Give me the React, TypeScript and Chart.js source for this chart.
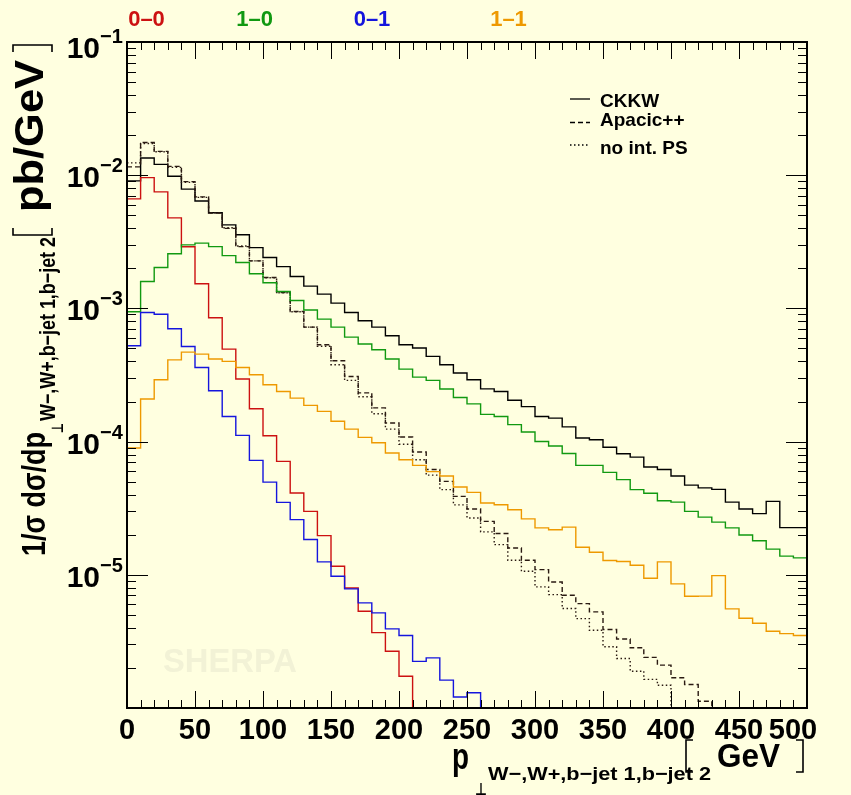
import React, { useEffect, useRef } from "react";
import { Chart, registerables } from "chart.js";

Chart.register(...registerables);

// ---------------- data ----------------
const binEdges = [
  0, 10, 20, 30, 40, 50, 60, 70, 80, 90, 100, 110, 120, 130, 140, 150, 160, 170, 180, 190,
  200, 210, 220, 230, 240, 250, 260, 270, 280, 290, 300, 310, 320, 330, 340, 350, 360, 370, 380, 390,
  400, 410, 420, 430, 440, 450, 460, 470, 480, 490, 500,
];

const ckkw = [
  9.06e-3, 1.348e-2, 1.205e-2, 9.83e-3, 7.86e-3, 6.41e-3, 5.22e-3, 4.24e-3, 3.57e-3, 2.86e-3,
  2.41e-3, 2.06e-3, 1.735e-3, 1.47e-3, 1.28e-3, 1.096e-3, 9.32e-4, 8.07e-4, 7.24e-4, 6.23e-4,
  5.33e-4, 5.04e-4, 4.36e-4, 3.78e-4, 3.27e-4, 2.91e-4, 2.49e-4, 2.38e-4, 2.045e-4, 1.83e-4,
  1.545e-4, 1.5e-4, 1.29e-4, 1.064e-4, 1.033e-4, 9.08e-5, 8.11e-5, 7.64e-5, 6.45e-5, 6.18e-5,
  5.52e-5, 4.71e-5, 4.49e-5, 4.38e-5, 3.51e-5, 3.12e-5, 2.88e-5, 3.56e-5, 2.26e-5, 2.26e-5,
];

const apacic = [
  1.154e-2, 1.76e-2, 1.51e-2, 1.164e-2, 8.95e-3, 6.87e-3, 5.19e-3, 3.99e-3, 2.91e-3, 2.275e-3,
  1.705e-3, 1.316e-3, 9.48e-4, 7.23e-4, 5.33e-4, 4.05e-4, 3.08e-4, 2.32e-4, 1.79e-4, 1.38e-4,
  1.083e-4, 8.36e-5, 6.18e-5, 5.03e-5, 3.88e-5, 3.12e-5, 2.52e-5, 2.04e-5, 1.59e-5, 1.285e-5,
  1.094e-5, 8.84e-6, 7.02e-6, 6.08e-6, 5.27e-6, 3.88e-6, 3.3e-6, 2.83e-6, 2.4e-6, 2.1e-6,
  1.685e-6, 1.5e-6, 1.125e-6, 0, 0, 0, 0, 0, 0, 0,
];

const noIntPS = [
  1.237e-2, 1.73e-2, 1.5e-2, 1.144e-2, 8.83e-3, 6.81e-3, 5.22e-3, 4.03e-3, 2.94e-3, 2.275e-3,
  1.7e-3, 1.31e-3, 9.43e-4, 7.23e-4, 5.2e-4, 3.78e-4, 2.88e-4, 2.17e-4, 1.62e-4, 1.24e-4,
  9.56e-5, 7.31e-5, 5.6e-5, 4.36e-5, 3.35e-5, 2.67e-5, 2.1e-5, 1.685e-5, 1.285e-5, 1.062e-5,
  8.11e-6, 7.1e-6, 5.58e-6, 4.69e-6, 3.83e-6, 2.88e-6, 2.35e-6, 1.89e-6, 1.64e-6, 1.48e-6,
  0, 0, 0, 0, 0, 0, 0, 0, 0, 0,
];

const h00 = [
  6.64e-3, 9.59e-3, 7.49e-3, 4.78e-3, 2.9e-3, 1.53e-3, 8.5e-4, 4.95e-4, 2.95e-4, 1.765e-4,
  1.107e-4, 7.1e-5, 4.11e-5, 2.995e-5, 1.97e-5, 1.16e-5, 7.97e-6, 5.32e-6, 3.68e-6, 2.67e-6,
  1.73e-6, 0, 0, 0, 0, 0, 0, 0, 0, 0,
  0, 0, 0, 0, 0, 0, 0, 0, 0, 0,
  0, 0, 0, 0, 0, 0, 0, 0, 0, 0,
];

const h10 = [
  9.43e-4, 1.59e-3, 2.03e-3, 2.57e-3, 3.0e-3, 3.09e-3, 2.91e-3, 2.49e-3, 2.21e-3, 1.82e-3,
  1.56e-3, 1.34e-3, 1.146e-3, 9.73e-4, 8.31e-4, 7.24e-4, 6.09e-4, 5.4e-4, 4.89e-4, 4.17e-4,
  3.5e-4, 3.05e-4, 2.88e-4, 2.48e-4, 2.145e-4, 1.92e-4, 1.6e-4, 1.545e-4, 1.34e-4, 1.18e-4,
  1.003e-4, 9.27e-5, 8.15e-5, 6.63e-5, 6.63e-5, 5.87e-5, 5.18e-5, 4.36e-5, 4.09e-5, 3.6e-5,
  3.51e-5, 2.995e-5, 2.71e-5, 2.485e-5, 2.25e-5, 1.99e-5, 1.8e-5, 1.56e-5, 1.38e-5, 1.34e-5,
];

const h01 = [
  5.24e-4, 9.32e-4, 9.03e-4, 7.03e-4, 5.18e-4, 3.6e-4, 2.41e-4, 1.545e-4, 1.113e-4, 7.23e-5,
  4.96e-5, 3.5e-5, 2.595e-5, 1.84e-5, 1.25e-5, 9.74e-6, 7.84e-6, 6.15e-6, 5.18e-6, 3.93e-6,
  3.5e-6, 2.24e-6, 2.38e-6, 1.62e-6, 1.21e-6, 1.3e-6, 0, 0, 0, 0,
  0, 0, 0, 0, 0, 0, 0, 0, 0, 0,
  0, 0, 0, 0, 0, 0, 0, 0, 0, 0,
];

const h11 = [
  8.95e-5, 2.09e-4, 2.91e-4, 4.11e-4, 4.7e-4, 4.54e-4, 4.17e-4, 4.0e-4, 3.6e-4, 3.18e-4,
  2.67e-4, 2.38e-4, 2.12e-4, 1.87e-4, 1.685e-4, 1.42e-4, 1.24e-4, 1.075e-4, 9.81e-5, 8.21e-5,
  7.31e-5, 6.63e-5, 5.95e-5, 5.52e-5, 4.56e-5, 4.16e-5, 3.46e-5, 3.36e-5, 3.08e-5, 2.63e-5,
  2.25e-5, 2.18e-5, 2.28e-5, 1.61e-5, 1.475e-5, 1.28e-5, 1.26e-5, 1.18e-5, 9.41e-6, 1.25e-5,
  8.55e-6, 6.9e-6, 6.92e-6, 9.86e-6, 5.55e-6, 4.72e-6, 4.33e-6, 3.77e-6, 3.62e-6, 3.5e-6,
];

const xTickLabels = [0, 50, 100, 150, 200, 250, 300, 350, 400, 450, 500];
const yTickExponents = [-1, -2, -3, -4, -5];
const headerLabels = ["0–0", "1–0", "0–1", "1–1"];
const headerColors = ["#CC1111", "#119911", "#1515DD", "#EE9900"];
const legendLabels = ["CKKW", "Apacic++", "no int. PS"];

const X_MIN = 0;
const X_MAX = 500;
const Y_MIN = 1e-6;
const Y_MAX = 1e-1;

// ---------------- styling ----------------
const FONT = '"Liberation Sans", Arial, Helvetica, sans-serif';
const SYM = '"DejaVu Sans", sans-serif';
const BG = "#FFFFE0";
const DASH = [5, 3];
const DOT = [1.5, 2.5];

type Ctx = CanvasRenderingContext2D;

function toSteps(values: number[]) {
  const pts = values.map((v, i) => ({ x: binEdges[i], y: v > 0 ? v : Y_MIN }));
  const last = values[values.length - 1];
  pts.push({ x: binEdges[values.length], y: last > 0 ? last : Y_MIN });
  return pts;
}

function drawText(
  ctx: Ctx,
  text: string,
  x: number,
  y: number,
  font: string,
  color: string,
  width?: number,
  align: "left" | "center" | "right" = "left"
) {
  ctx.save();
  ctx.font = font;
  ctx.fillStyle = color;
  ctx.textBaseline = "alphabetic";
  ctx.textAlign = "left";
  const w = ctx.measureText(text).width;
  const sx = width ? width / w : 1;
  const dw = w * sx;
  let x0 = x;
  if (align === "center") x0 = x - dw / 2;
  else if (align === "right") x0 = x - dw;
  ctx.translate(x0, y);
  ctx.scale(sx, 1);
  ctx.fillText(text, 0, 0);
  ctx.restore();
}

function drawRotText(ctx: Ctx, text: string, baseX: number, startY: number, font: string, color: string, length?: number) {
  ctx.save();
  ctx.translate(baseX, startY);
  ctx.rotate(-Math.PI / 2);
  drawText(ctx, text, 0, 0, font, color, length);
  ctx.restore();
}

function line(ctx: Ctx, pts: number[][], width: number) {
  ctx.save();
  ctx.lineWidth = width;
  ctx.strokeStyle = "#000";
  ctx.beginPath();
  pts.forEach((p, i) => (i === 0 ? ctx.moveTo(p[0], p[1]) : ctx.lineTo(p[0], p[1])));
  ctx.stroke();
  ctx.restore();
}

const decor = {
  id: "decor",
  beforeDraw(chart: any) {
    const ctx: Ctx = chart.ctx;
    ctx.save();
    ctx.fillStyle = BG;
    ctx.fillRect(0, 0, chart.width, chart.height);
    ctx.restore();
  },
  beforeDatasetsDraw(chart: any) {
    const ctx: Ctx = chart.ctx;
    drawText(ctx, "SHERPA", 163, 672, `bold 33px ${FONT}`, "#F2F2D6", 134);
  },
  afterDatasetsDraw(chart: any) {
    const ctx: Ctx = chart.ctx;
    const a = chart.chartArea;
    const xs = chart.scales.x;
    const ys = chart.scales.y;

    // ticks
    ctx.save();
    ctx.strokeStyle = "#000";
    ctx.lineWidth = 1;
    ctx.beginPath();
    for (let v = X_MIN; v <= X_MAX; v += 10) {
      const px = Math.round(xs.getPixelForValue(v)) + 0.5;
      const len = v % 50 === 0 ? 17 : 8;
      ctx.moveTo(px, a.bottom);
      ctx.lineTo(px, a.bottom - len);
      ctx.moveTo(px, a.top);
      ctx.lineTo(px, a.top + len);
    }
    for (let e = -6; e <= -1; e++) {
      for (let m = 1; m <= 9; m++) {
        const v = m * Math.pow(10, e);
        if (v < Y_MIN * 0.999 || v > Y_MAX * 1.001) continue;
        const py = Math.round(ys.getPixelForValue(v)) + 0.5;
        const len = m === 1 ? 21 : 9;
        ctx.moveTo(a.left, py);
        ctx.lineTo(a.left + len, py);
        ctx.moveTo(a.right, py);
        ctx.lineTo(a.right - len, py);
      }
    }
    ctx.stroke();
    ctx.lineWidth = 2;
    ctx.strokeRect(a.left, a.top, a.right - a.left, a.bottom - a.top);
    ctx.restore();

    // x tick labels
    xTickLabels.forEach((v, i) => {
      let px = xs.getPixelForValue(v);
      if (i === xTickLabels.length - 1) px -= 14;
      drawText(ctx, String(v), px, 739, `bold 29px ${FONT}`, "#000", undefined, "center");
    });

    // y tick labels
    yTickExponents.forEach((e) => {
      const py = ys.getPixelForValue(Math.pow(10, e));
      const top = e === -1;
      drawText(ctx, "10", 100, py + (top ? 16 : 12), `bold 30px ${FONT}`, "#000", undefined, "right");
      drawText(ctx, "−" + String(-e), 100, py + (top ? 1 : -3), `bold 20px ${FONT}`, "#000");
    });

    // x axis title
    drawText(ctx, "p", 452, 769, `bold 37px ${FONT}`, "#000", 17);
    drawText(ctx, "⊥", 475, 795, `bold 17px ${SYM}`, "#000", 12);
    drawText(ctx, "W−,W+,b−jet 1,b−jet 2", 488, 780, `bold 19px ${FONT}`, "#000", 223);
    line(ctx, [[693, 740], [686, 740], [686, 772], [693, 772]], 1.6);
    drawText(ctx, "GeV", 717, 767, `bold 33px ${FONT}`, "#000", 63);
    line(ctx, [[796, 740], [803, 740], [803, 772], [796, 772]], 1.6);

    // y axis title (rotated)
    drawRotText(ctx, "1/σ dσ/dp", 45, 556, `bold 34px ${FONT}`, "#000", 124);
    drawRotText(ctx, "⊥", 63, 433, `bold 16px ${SYM}`, "#000", 10);
    drawRotText(ctx, "W−,W+,b−jet 1,b−jet 2", 55, 421, `bold 22px ${FONT}`, "#000", 184);
    line(ctx, [[13, 228], [13, 235], [52, 235], [52, 228]], 1.6);
    drawRotText(ctx, "pb/GeV", 43, 212, `bold 41px ${FONT}`, "#000", 152);
    line(ctx, [[13, 52], [13, 45], [52, 45], [52, 52]], 1.6);

    // header labels
    const hx = [146.5, 254.6, 372, 508.5];
    headerLabels.forEach((t, i) => {
      drawText(ctx, t, hx[i], 26, `bold 22px ${FONT}`, headerColors[i], undefined, "center");
    });

    // legend
    const ly = [99, 122.5, 145];
    const ty = [107, 126, 154];
    const dashes = [[], DASH, DOT];
    legendLabels.forEach((t, i) => {
      ctx.save();
      ctx.strokeStyle = "#000";
      ctx.lineWidth = 1.3;
      ctx.setLineDash(dashes[i] as number[]);
      ctx.beginPath();
      ctx.moveTo(570, ly[i]);
      ctx.lineTo(590, ly[i]);
      ctx.stroke();
      ctx.restore();
      drawText(ctx, t, 600, ty[i], `bold 19px ${FONT}`, "#000");
    });
  },
};

function ds(label: string, values: number[], color: string, dash: number[] = []) {
  return {
    label,
    data: toSteps(values),
    borderColor: color,
    backgroundColor: color,
    borderWidth: 1.4,
    borderDash: dash,
    pointRadius: 0,
    stepped: "before" as const,
    fill: false,
    tension: 0,
  };
}

export default function App() {
  const ref = useRef<HTMLCanvasElement>(null);
  useEffect(() => {
    document.body.style.margin = "0";
    const canvas = ref.current!;
    const chart = new Chart(canvas, {
      type: "line",
      data: {
        datasets: [
          ds("1-1", h11, "#EE9900"),
          ds("0-1", h01, "#1515DD"),
          ds("1-0", h10, "#119911"),
          ds("0-0", h00, "#CC1111"),
          ds("no int. PS", noIntPS, "#2a1a12", DOT),
          ds("Apacic++", apacic, "#2a1a12", DASH),
          ds("CKKW", ckkw, "#000000"),
        ] as any,
      },
      options: {
        animation: false,
        responsive: false,
        devicePixelRatio: 1,
        events: [],
        layout: { padding: { left: 127, right: 44, top: 42, bottom: 87 } },
        scales: {
          x: { type: "linear", min: X_MIN, max: X_MAX, display: false },
          y: { type: "logarithmic", min: Y_MIN, max: Y_MAX, display: false },
        },
        plugins: {
          legend: { display: false },
          tooltip: { enabled: false },
        },
      },
      plugins: [decor],
    });
    return () => chart.destroy();
  }, []);
  return (
    <div style={{ position: "absolute", left: 0, top: 0, width: 851, height: 795, background: BG }}>
      <canvas ref={ref} width={851} height={795} style={{ display: "block", width: 851, height: 795 }} />
    </div>
  );
}
